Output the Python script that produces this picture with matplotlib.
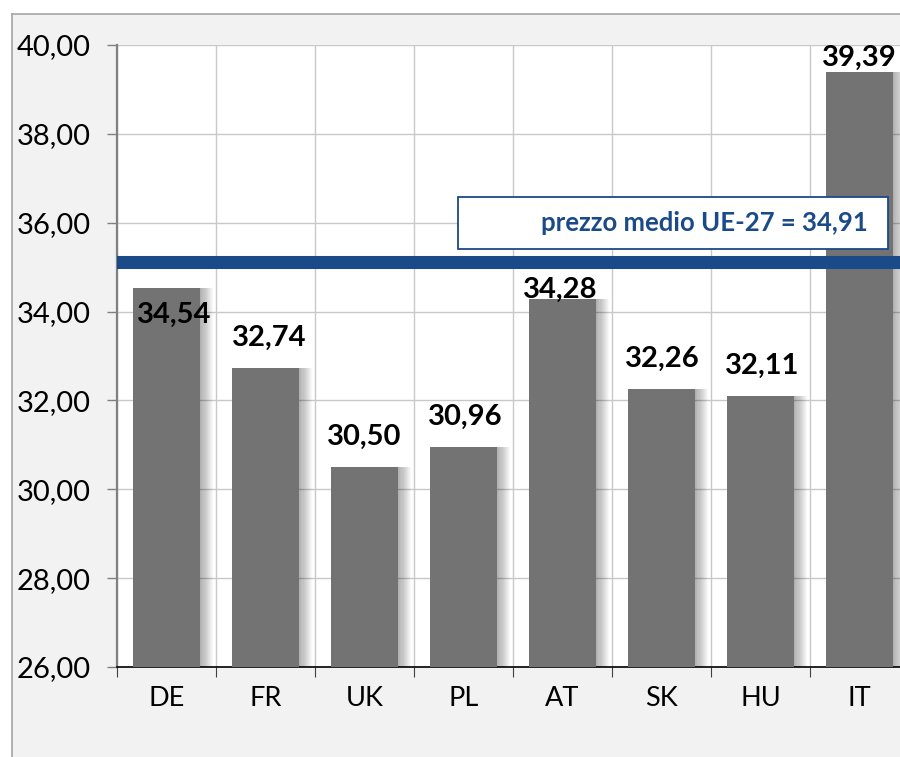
import matplotlib.pyplot as plt
import numpy as np
from matplotlib.lines import Line2D
from matplotlib.patches import Rectangle

countries = ['DE', 'FR', 'UK', 'PL', 'AT', 'SK', 'HU', 'IT']
prices = [34.54, 32.74, 30.50, 30.96, 34.28, 32.26, 32.11, 39.39]
price_labels = ['34,54', '32,74', '30,50', '30,96', '34,28', '32,26', '32,11', '39,39']
eu_avg_label = 'prezzo medio UE-27 = 34,91'
eu_line_level = 35.12  # where the line sits in the picture
y_ticks = [26, 28, 30, 32, 34, 36, 38, 40]
y_tick_labels = ['26,00', '28,00', '30,00', '32,00', '34,00', '36,00', '38,00', '40,00']

# label placement (data units above bar top, x shift in category units)
label_dy = [-0.62, 0.67, 0.68, 0.67, 0.21, 0.67, 0.67, 0.32]
label_dx = [0.08, 0.04, 0.0, 0.02, -0.02, 0.01, 0.02, 0.0]

plt.rcParams['font.family'] = ['Lato', 'DejaVu Sans']

fig = plt.figure(figsize=(9, 7.57), dpi=100, facecolor='white')

# outer chart area
bg = Rectangle((12 / 900, 0), 1 - 12 / 900, 1 - 14 / 757, transform=fig.transFigure,
               facecolor='#f2f2f2', edgecolor='none', zorder=-10)
fig.patches.append(bg)
fig.add_artist(Line2D([12 / 900, 1], [1 - 14 / 757] * 2, transform=fig.transFigure,
                      color='#a6a6a6', lw=1.2))
fig.add_artist(Line2D([12 / 900] * 2, [0, 1 - 14 / 757], transform=fig.transFigure,
                      color='#a6a6a6', lw=1.2))

ax = fig.add_axes([117 / 900, 90 / 757, 792 / 900, 622 / 757])
ax.set_facecolor('white')

x = np.arange(len(countries))
bar_w = 0.68

# soft shadow to the right of each bar
for i in range(1, 13):
    ax.bar(x + i * 0.011, prices, width=bar_w, color='black', alpha=0.028,
           zorder=2, linewidth=0)
ax.bar(x, prices, width=bar_w, color='#737373', zorder=3, linewidth=0)

for xi, v, lab, dy, dx in zip(x, prices, price_labels, label_dy, label_dx):
    ax.text(xi + dx, v + dy, lab, ha='center', va='center', fontsize=21,
            fontweight='bold', color='black', zorder=6)

# EU average line and its label box
ax.axhline(eu_line_level, color='#1a4a87', lw=9.4, zorder=4)
ax.add_patch(Rectangle((2.94, 35.41), 4.35, 1.17, facecolor='white',
                       edgecolor='#1a4a87', lw=1.3, zorder=5))
ax.text(7.08, 35.99, eu_avg_label, ha='right', va='center', fontsize=18.5,
        fontweight='bold', color='#1a4a87', zorder=6)

ax.set_xlim(-0.5, 7.5)
ax.set_ylim(26, 40)
ax.set_yticks(y_ticks)
ax.set_yticklabels(y_tick_labels)
ax.set_xticks(x)
ax.set_xticklabels(countries)
ax.set_xticks(np.arange(-0.5, 8, 1), minor=True)

ax.tick_params(axis='x', which='major', length=0, pad=14, labelsize=19.5)
ax.tick_params(axis='x', which='minor', length=7, width=0.8, color='#404040',
               direction='out')
ax.tick_params(axis='y', length=7, width=1, color='#808080', direction='out',
               pad=12, labelsize=21)

ax.grid(axis='y', which='major', color='#c8c8c8', lw=1, zorder=0)
ax.grid(axis='x', which='minor', color='#c8c8c8', lw=1, zorder=0)
ax.set_axisbelow(True)

for side in ['top', 'right']:
    ax.spines[side].set_visible(False)
ax.spines['left'].set_color('#808080')
ax.spines['left'].set_linewidth(1.6)
ax.spines['bottom'].set_color('black')
ax.spines['bottom'].set_linewidth(1.2)

fig.savefig('out.png', dpi=100, facecolor=fig.get_facecolor())
